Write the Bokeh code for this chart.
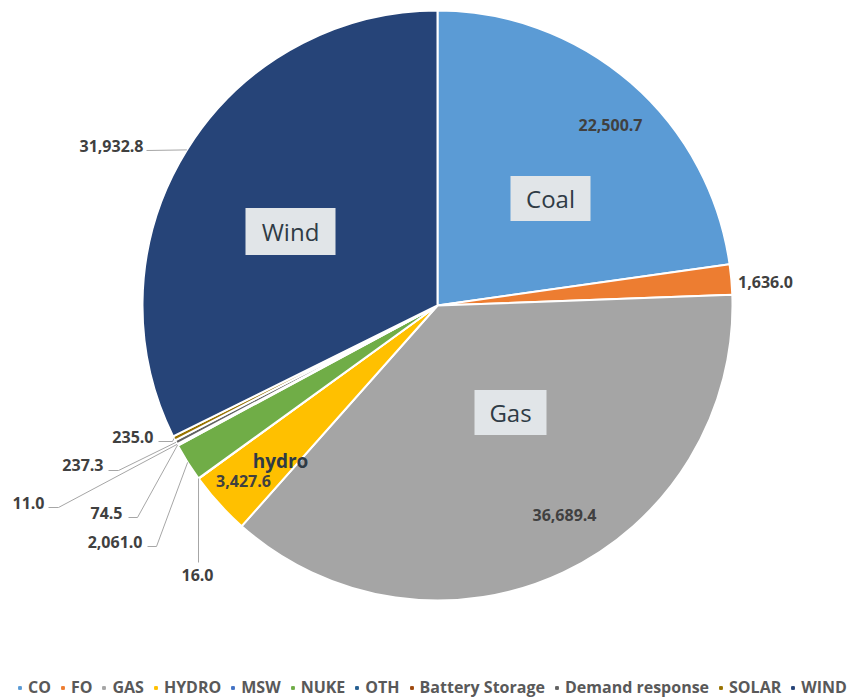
import math
from bokeh.plotting import figure
from bokeh.models import Range1d, ColumnDataSource, Legend, LegendItem
from bokeh.core.properties import value
from bokeh.embed import file_html
from bokeh.resources import INLINE

# ---- data ----
categories = ["CO", "FO", "GAS", "HYDRO", "MSW", "NUKE", "OTH",
              "Battery Storage", "Demand response", "SOLAR", "WIND"]
values = [22500.7, 1636.0, 36689.4, 3427.6, 16.0, 2061.0, 74.5,
          11.0, 237.3, 235.0, 31932.8]
colors = ["#5B9BD5", "#ED7D31", "#A5A5A5", "#FFC000", "#4472C4", "#70AD47",
          "#255E91", "#9E480E", "#636363", "#997300", "#264478"]
group_labels = ["Coal", "Wind", "Gas"]

W, H = 865, 698
def sx(x): return x
def sy(y): return H - y

CX, CY, R = sx(437), sy(305), 295

total = sum(values)
starts, ends, mids = [], [], []
cum = 0.0
for v in values:
    a0 = math.pi / 2 - 2 * math.pi * cum / total
    cum += v
    a1 = math.pi / 2 - 2 * math.pi * cum / total
    starts.append(a0); ends.append(a1); mids.append((a0 + a1) / 2)

p = figure(width=W, height=H, output_backend="svg", toolbar_location=None,
           x_range=Range1d(0, W), y_range=Range1d(0, H), min_border=0)
p.axis.visible = False
p.grid.visible = False
p.outline_line_color = None
p.background_fill_color = "white"

src = ColumnDataSource(dict(start=starts, end=ends, color=colors, cat=categories))
p.wedge(x=CX, y=CY, radius=R, start_angle="start", end_angle="end",
        direction="clock", fill_color="color", line_color="white", line_width=2,
        source=src)

# ---- data labels (screen positions) ----
lab_font = value("Open Sans")
lab_color = "#404040"
label_pos = [(610, 124, "center"), (765, 281, "center"), (564, 514, "center"),
             (243, 480, "center"), (197, 574, "center"), (142, 541, "right"),
             (122, 512, "right"), (44, 502, "right"), (103, 464, "right"),
             (153, 436, "right"), (143, 145, "right")]
leaders = {4: [(198, 562)], 5: [(147, 546), (156, 546)], 6: [(128, 517), (137, 517)],
           7: [(48, 507), (58, 507)], 8: [(108, 470), (118, 470)],
           9: [(158, 441), (172, 441)], 10: [(146, 150)]}
for i, pts in leaders.items():
    ex = CX + R * math.cos(mids[i])
    ey = CY + R * math.sin(mids[i])
    xs = [sx(x) for x, _ in pts] + [ex]
    ys = [sy(y) for _, y in pts] + [ey]
    p.line(xs, ys, line_color="#a6a6a6", line_width=1)

for (x, y, al), v in zip(label_pos, values):
    p.text(x=[sx(x)], y=[sy(y)], text=[f"{v:,.1f}"], text_align=al,
           text_baseline="middle", text_font=lab_font, text_font_style="bold",
           text_font_size="16px", text_color=lab_color)

p.text(x=[sx(280)], y=[sy(460)], text=["hydro"], text_align="center",
       text_baseline="middle", text_font=lab_font, text_font_style="bold",
       text_font_size="19px", text_color="#2f3b45")

# ---- group label boxes ----
box_pos = [(550, 198, 80, 45), (290, 231, 90, 47), (510, 412, 72, 45)]
for (x, y, w, h), t in zip(box_pos, group_labels):
    p.rect(x=[sx(x)], y=[sy(y)], width=w, height=h, fill_color="#e1e5e8",
           line_color=None)
    p.text(x=[sx(x)], y=[sy(y)], text=[t], text_align="center",
           text_baseline="middle", text_font=lab_font, text_font_size="24px",
           text_color="#2f3b45")

# ---- legend ----
items = []
for c, col in zip(categories, colors):
    r = p.scatter(x=[float("nan")], y=[float("nan")], marker="square", size=7,
                  fill_color=col, line_color=col)
    items.append(LegendItem(label=c, renderers=[r]))
legend = Legend(items=items, orientation="horizontal", location=(16, 0),
                label_text_font="Open Sans", label_text_font_style="bold",
                label_text_font_size="16px", label_text_color="#595959",
                glyph_width=7, glyph_height=7, label_standoff=5, spacing=8,
                label_height=18, padding=0, margin=0, border_line_color=None,
                background_fill_alpha=0)
p.add_layout(legend, "center")

open("out.html", "w").write(file_html(p, INLINE))
